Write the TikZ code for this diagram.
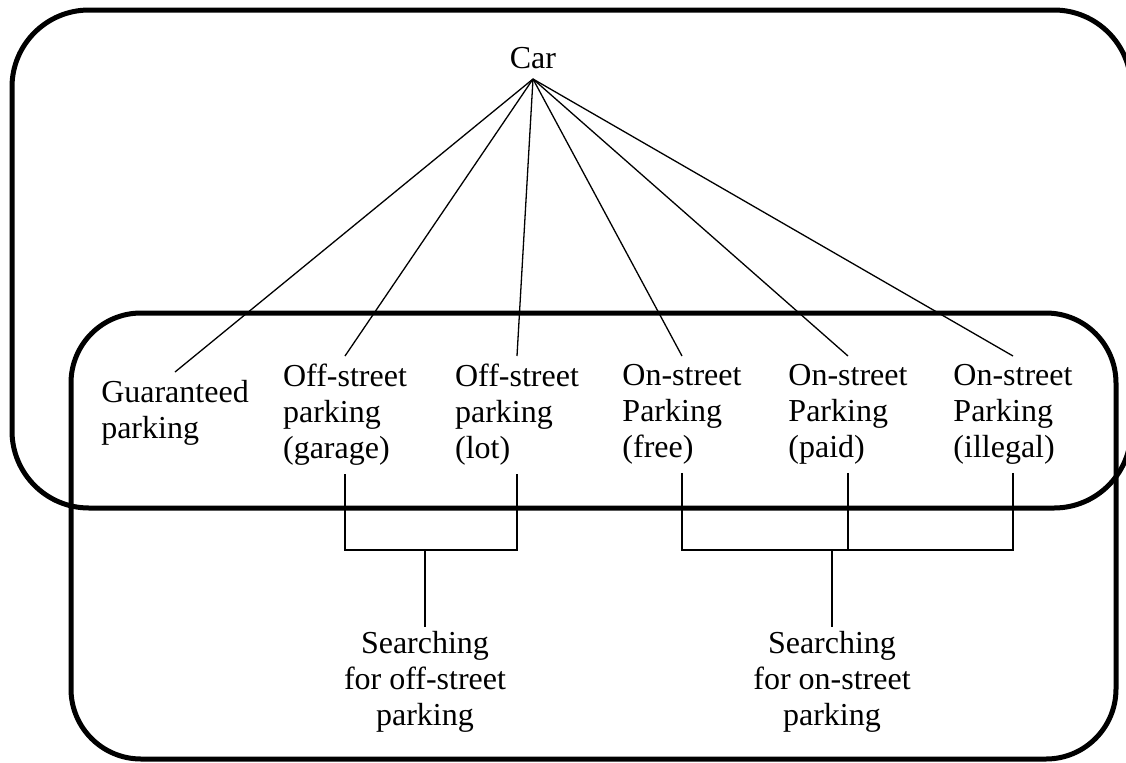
\documentclass[tikz,border=0pt]{standalone}
\usepackage{fontspec}
\setmainfont{Liberation Serif}
\usetikzlibrary{positioning}

\begin{document}
\begin{tikzpicture}[x=0.5pt,y=-0.5pt,
  label/.style={inner xsep=0pt,inner ysep=4pt,font=\fontsize{16}{18}\selectfont},
  choice/.style={label,align=left,anchor=north},
  search/.style={label,align=center,anchor=north,inner ysep=2pt},
  branch/.style={line width=0.65pt},
  group/.style={line width=2.5pt}]
  \useasboundingbox (0,0) rectangle (1126,762);

  \draw[group,rounded corners=38.5pt] (12,10) rectangle (1131,508);
  \draw[group,rounded corners=35pt] (71,313) rectangle (1116,759);

  \node at (533,79) [label,anchor=south,inner ysep=5pt] (car) {Car};

  \node at (175,372) [choice] (guaranteed) {
    Guaranteed\\
    parking
  };

  \node at (345,356) [choice] (garage) {
    Off-street\\
    parking\\
    (garage)
  };

  \node at (517,356) [choice] (lot) {
    Off-street\\
    parking\\
    (lot)
  };

  \node at (682,356) [choice] (free) {
    On-street\\
    Parking\\
    (free)
  };

  \node at (848,356) [choice] (paid) {
    On-street\\
    Parking\\
    (paid)
  };

  \node at (1013,356) [choice] (illegal) {
    On-street\\
    Parking\\
    (illegal)
  };

  \coordinate (offjoin) at (425,550);
  \coordinate (onjoin) at (832,550);

  \node at (425,627) [search] (offsearch) {
    Searching\\
    for off-street\\
    parking
  };

  \node at (832,627) [search] (onsearch) {
    Searching\\
    for on-street\\
    parking
  };

  \foreach \leaf in {guaranteed,garage,lot,free,paid,illegal}
    \draw[branch] (car.south) -- (\leaf.north);

  \draw[branch] (garage.south) |- (offjoin);
  \draw[branch] (lot.south) |- (offjoin);
  \draw[branch] (offjoin) -- (offsearch.north);

  \draw[branch] (free.south) |- (onjoin);
  \draw[branch] (illegal.south) |- (onjoin);
  \draw[branch] (paid.south) -- (paid.south |- onjoin);
  \draw[branch] (onjoin) -- (onsearch.north);
\end{tikzpicture}
\end{document}
